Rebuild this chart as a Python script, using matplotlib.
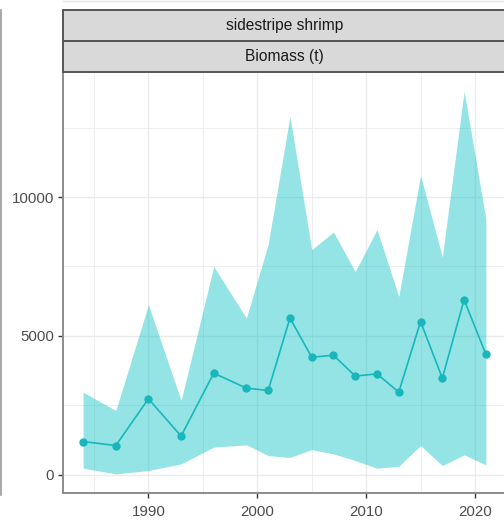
import numpy as np
import matplotlib
matplotlib.use('Agg')
import matplotlib.pyplot as plt
from matplotlib.lines import Line2D
from matplotlib.ticker import MultipleLocator

plt.rcParams['font.family'] = ['Liberation Sans', 'DejaVu Sans']

# values
years = [1984, 1987, 1990, 1993, 1996, 1999, 2001, 2003, 2005,
         2007, 2009, 2011, 2013, 2015, 2017, 2019, 2021]
biomass = [1190, 1045, 2730, 1385, 3655, 3115, 3030, 5640, 4230,
           4300, 3550, 3630, 2970, 5515, 3475, 6300, 4340]
upper = [2970, 2310, 6120, 2670, 7500, 5640, 8300, 12910, 8110,
         8740, 7320, 8830, 6420, 10780, 7840, 13820, 9220]
lower = [230, 25, 145, 385, 990, 1070, 685, 615, 900,
         745, 505, 230, 300, 1045, 325, 710, 350]

species = 'sidestripe shrimp'
metric = 'Biomass (t)'

teal = '#00BFC4'
line_col = '#18b7bc'
grid_col = '#ebebeb'
axis_col = '#8c8c8c'
text_col = '#4d4d4d'

fig = plt.figure(figsize=(5.04, 5.20), dpi=100)

# main panel (right edge runs just past the crop, as in the original)
ax = fig.add_axes([63/504, 27/520, 443/504, 421/520])
ax.fill_between(years, lower, upper, color=teal, alpha=0.42, linewidth=0, zorder=2)
ax.plot(years, biomass, color=line_col, lw=1.2, zorder=3)
ax.plot(years, biomass, 'o', color=line_col, ms=5, zorder=4)

span = years[-1] - years[0]
ax.set_xlim(years[0] - 0.05*span, years[-1] + 0.05*span)
lo, hi = min(lower), max(upper)
ax.set_ylim(lo - 0.05*(hi - lo), hi + 0.05*(hi - lo))

ax.xaxis.set_major_locator(MultipleLocator(10))
ax.xaxis.set_minor_locator(MultipleLocator(5))
ax.yaxis.set_major_locator(MultipleLocator(5000))
ax.yaxis.set_minor_locator(MultipleLocator(2500))
ax.grid(True, which='major', color=grid_col, lw=1.0, zorder=0)
ax.grid(True, which='minor', color=grid_col, lw=0.6, zorder=0)
ax.set_axisbelow(True)

ax.tick_params(which='major', length=3.5, width=1.0, color='#333333',
               labelsize=10.8, labelcolor=text_col)
ax.tick_params(axis='x', which='major', pad=5)
ax.tick_params(axis='y', which='major', pad=3)
ax.tick_params(which='minor', length=0)

for side in ['left', 'bottom']:
    ax.spines[side].set_color(axis_col)
    ax.spines[side].set_linewidth(1.4)
ax.spines['top'].set_visible(False)
ax.spines['right'].set_visible(False)

# facet strips
def strip(y0, y1, label):
    s = fig.add_axes([63/504, (520 - y1)/520, 443/504, (y1 - y0)/520])
    s.set_facecolor('#d9d9d9')
    s.set_xticks([])
    s.set_yticks([])
    for sp in s.spines.values():
        sp.set_color('#555555')
        sp.set_linewidth(1.4)
    s.text(0.5, 0.5, label, ha='center', va='center', fontsize=11.2,
           color='#1a1a1a', transform=s.transAxes)

strip(9.5, 41, species)
strip(41, 72, metric)

# edges of the neighbouring panels that show in the crop
fig.add_artist(Line2D([0.6/504, 0.6/504], [1 - 10/520, 1 - 495/520],
                      transform=fig.transFigure, color='#9a9a9a', lw=1.2))
fig.add_artist(Line2D([63/504, 1], [1 - 0.8/520, 1 - 0.8/520],
                      transform=fig.transFigure, color='#e3e3e3', lw=1.0))

fig.savefig('out.png', dpi=100)
